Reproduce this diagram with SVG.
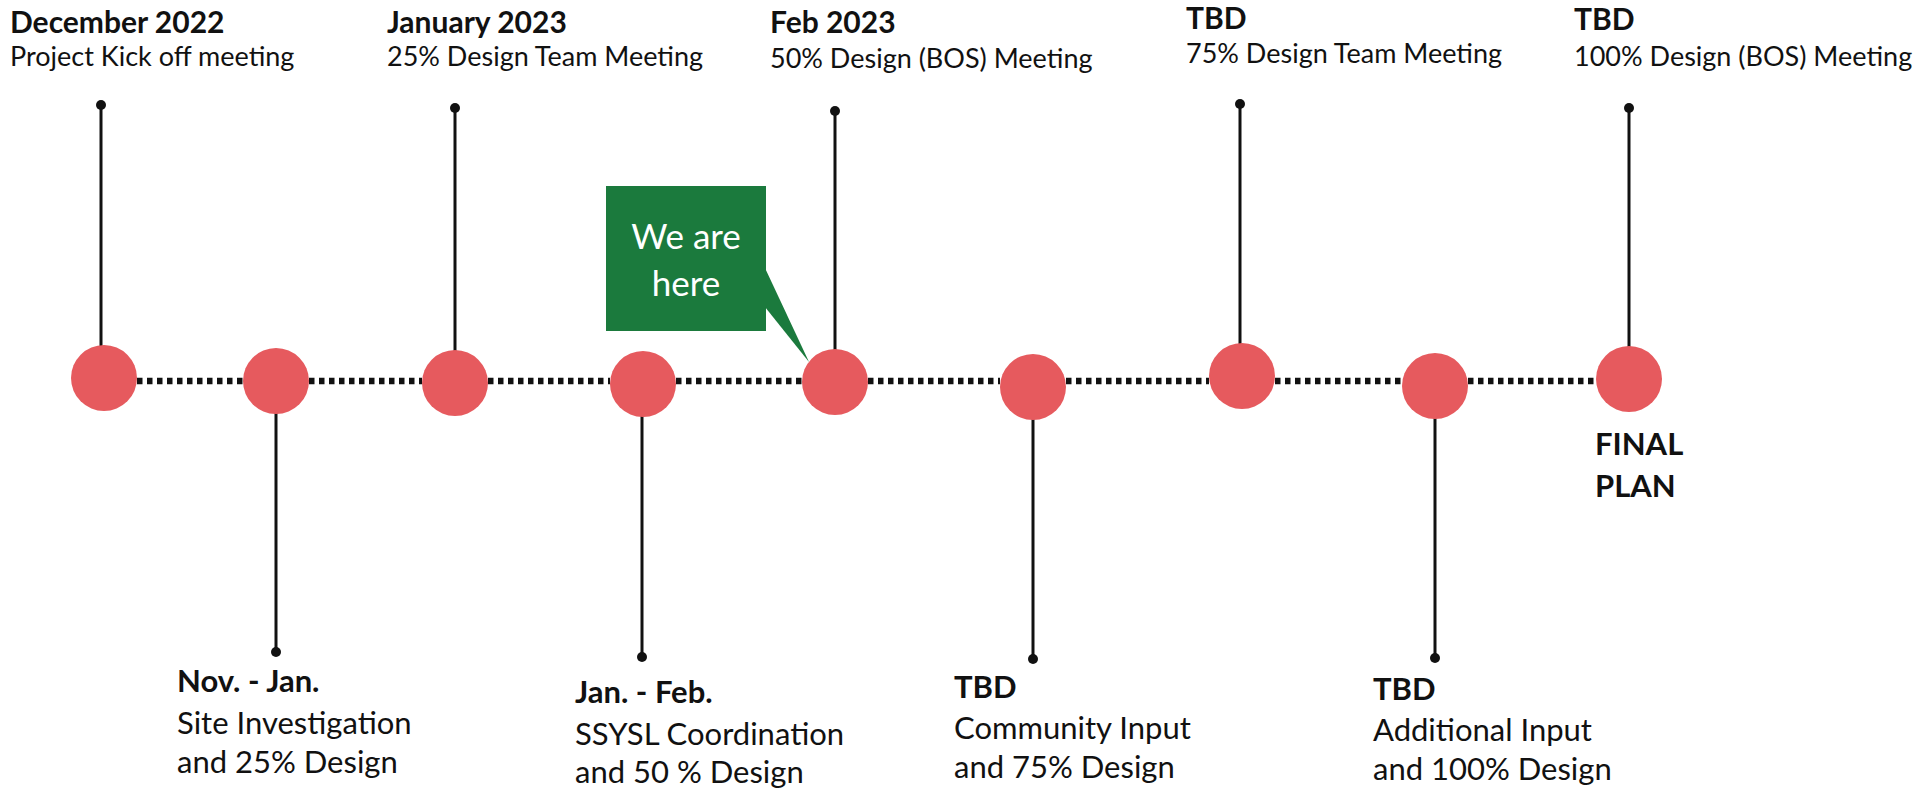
<svg xmlns="http://www.w3.org/2000/svg" width="1929" height="792" viewBox="0 0 1929 792">
<style>
.bg{fill:#ffffff}
.dotline{stroke:#111;stroke-width:6.5;stroke-dasharray:5.5 4.5;fill:none}
.stem{stroke:#111;stroke-width:3;fill:none}
.pin{fill:#111}
.ms{fill:#e65a5e}
.h{font-family:Lato,"Liberation Sans",sans-serif;font-weight:700;font-size:30px;fill:#111}
.t{font-family:Lato,"Liberation Sans",sans-serif;font-size:27px;fill:#111}
.hb{font-family:Lato,"Liberation Sans",sans-serif;font-weight:700;font-size:31px;fill:#111}
.tb{font-family:Lato,"Liberation Sans",sans-serif;font-size:31px;fill:#111}
.call{fill:#1b7a3d}
.ct{font-family:Lato,"Liberation Sans",sans-serif;font-size:35px;fill:#ffffff;text-anchor:middle}
</style>
<rect class="bg" x="0" y="0" width="1929" height="792"/>
<g id="connectors">
<line class="dotline" x1="137" y1="381" x2="243" y2="381"/>
<line class="dotline" x1="309" y1="381" x2="422" y2="381"/>
<line class="dotline" x1="488" y1="381" x2="610" y2="381"/>
<line class="dotline" x1="676" y1="381" x2="802" y2="381"/>
<line class="dotline" x1="868" y1="381" x2="1000" y2="381"/>
<line class="dotline" x1="1066" y1="381" x2="1209" y2="381"/>
<line class="dotline" x1="1275" y1="381" x2="1402" y2="381"/>
<line class="dotline" x1="1468" y1="381" x2="1596" y2="381"/>
</g>
<g id="m1">
<line class="stem" x1="101" y1="105" x2="101" y2="350"/>
<circle class="pin" cx="101" cy="105" r="5"/>
<circle class="ms" cx="104" cy="378" r="33"/>
<text class="h" x="10" y="33">December 2022</text>
<text class="t" x="10" y="66">Project Kick off meeting</text>
</g>
<g id="m2">
<line class="stem" x1="276" y1="410" x2="276" y2="652"/>
<circle class="pin" cx="276" cy="652" r="5"/>
<circle class="ms" cx="276" cy="381" r="33"/>
<text class="hb" x="177" y="692">Nov. - Jan.</text>
<text class="tb" x="177" y="734">Site Investigation</text>
<text class="tb" x="177" y="773">and 25% Design</text>
</g>
<g id="m3">
<line class="stem" x1="455" y1="108" x2="455" y2="355"/>
<circle class="pin" cx="455" cy="108" r="5"/>
<circle class="ms" cx="455" cy="383" r="33"/>
<text class="h" x="387" y="33">January 2023</text>
<text class="t" x="387" y="66">25% Design Team Meeting</text>
</g>
<g id="m4">
<line class="stem" x1="642" y1="412" x2="642" y2="657"/>
<circle class="pin" cx="642" cy="657" r="5"/>
<circle class="ms" cx="643" cy="384" r="33"/>
<text class="hb" x="575" y="703">Jan. - Feb.</text>
<text class="tb" x="575" y="745">SSYSL Coordination</text>
<text class="tb" x="575" y="783">and 50 % Design</text>
</g>
<g id="callout">
<rect class="call" x="606" y="186" width="160" height="145"/>
<polygon class="call" points="765,268 809,362 765,307"/>
<text class="ct" x="686" y="249">We are</text>
<text class="ct" x="686" y="296">here</text>
</g>
<g id="m5">
<line class="stem" x1="835" y1="111" x2="835" y2="355"/>
<circle class="pin" cx="835" cy="111" r="5"/>
<circle class="ms" cx="835" cy="382" r="33"/>
<text class="h" x="770" y="33">Feb 2023</text>
<text class="t" x="770" y="68">50% Design (BOS) Meeting</text>
</g>
<g id="m6">
<line class="stem" x1="1033" y1="415" x2="1033" y2="659"/>
<circle class="pin" cx="1033" cy="659" r="5"/>
<circle class="ms" cx="1033" cy="387" r="33"/>
<text class="hb" x="954" y="698">TBD</text>
<text class="tb" x="954" y="739">Community Input</text>
<text class="tb" x="954" y="778">and 75% Design</text>
</g>
<g id="m7">
<line class="stem" x1="1240" y1="104" x2="1240" y2="350"/>
<circle class="pin" cx="1240" cy="104" r="5"/>
<circle class="ms" cx="1242" cy="376" r="33"/>
<text class="h" x="1186" y="29">TBD</text>
<text class="t" x="1186" y="63">75% Design Team Meeting</text>
</g>
<g id="m8">
<line class="stem" x1="1435" y1="415" x2="1435" y2="658"/>
<circle class="pin" cx="1435" cy="658" r="5"/>
<circle class="ms" cx="1435" cy="386" r="33"/>
<text class="hb" x="1373" y="700">TBD</text>
<text class="tb" x="1373" y="741">Additional Input</text>
<text class="tb" x="1373" y="780">and 100% Design</text>
</g>
<g id="m9">
<line class="stem" x1="1629" y1="108" x2="1629" y2="350"/>
<circle class="pin" cx="1629" cy="108" r="5"/>
<circle class="ms" cx="1629" cy="379" r="33"/>
<text class="h" x="1574" y="30">TBD</text>
<text class="t" x="1574" y="66">100% Design (BOS) Meeting</text>
<text class="hb" x="1595" y="455">FINAL</text>
<text class="hb" x="1595" y="497">PLAN</text>
</g>
</svg>
